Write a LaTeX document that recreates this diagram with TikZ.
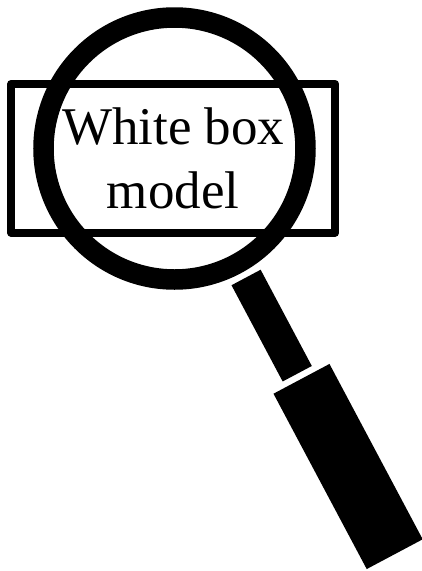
\documentclass[tikz,border=0pt]{standalone}
\usepackage{fontspec}
\setmainfont{Liberation Serif}

\begin{document}
\begin{tikzpicture}[x=1pt, y=1pt]
	\tikzstyle{box} = [rectangle, minimum width = 324pt, minimum height = 148.7pt, inner sep=0pt, outer sep=0pt, line width=8pt, line join=round, align=center, draw=black, font=\fontsize{53}{64}\selectfont]
	\tikzstyle{lens} = [circle, minimum size = 262pt, inner sep=0pt, outer sep=0pt, line width=20.5pt, draw=black]
	\tikzstyle{grip} = [rectangle, inner sep=0pt, outer sep=0pt, fill=black, rotate=-62]

	\useasboundingbox (0,0) rectangle (422,-571);

	\node[box](whitebox) at (173.2,-158.3){White box\\model};

	\node[lens](glass) at (174.5,-148.5){};

	\node[grip, minimum width=109pt, minimum height=33pt](neck) at (271.65,-325.6){};
	\node[grip, minimum width=198.6pt, minimum height=63.4pt](handle) at (348.1,-466.5){};

\end{tikzpicture}
\end{document}
